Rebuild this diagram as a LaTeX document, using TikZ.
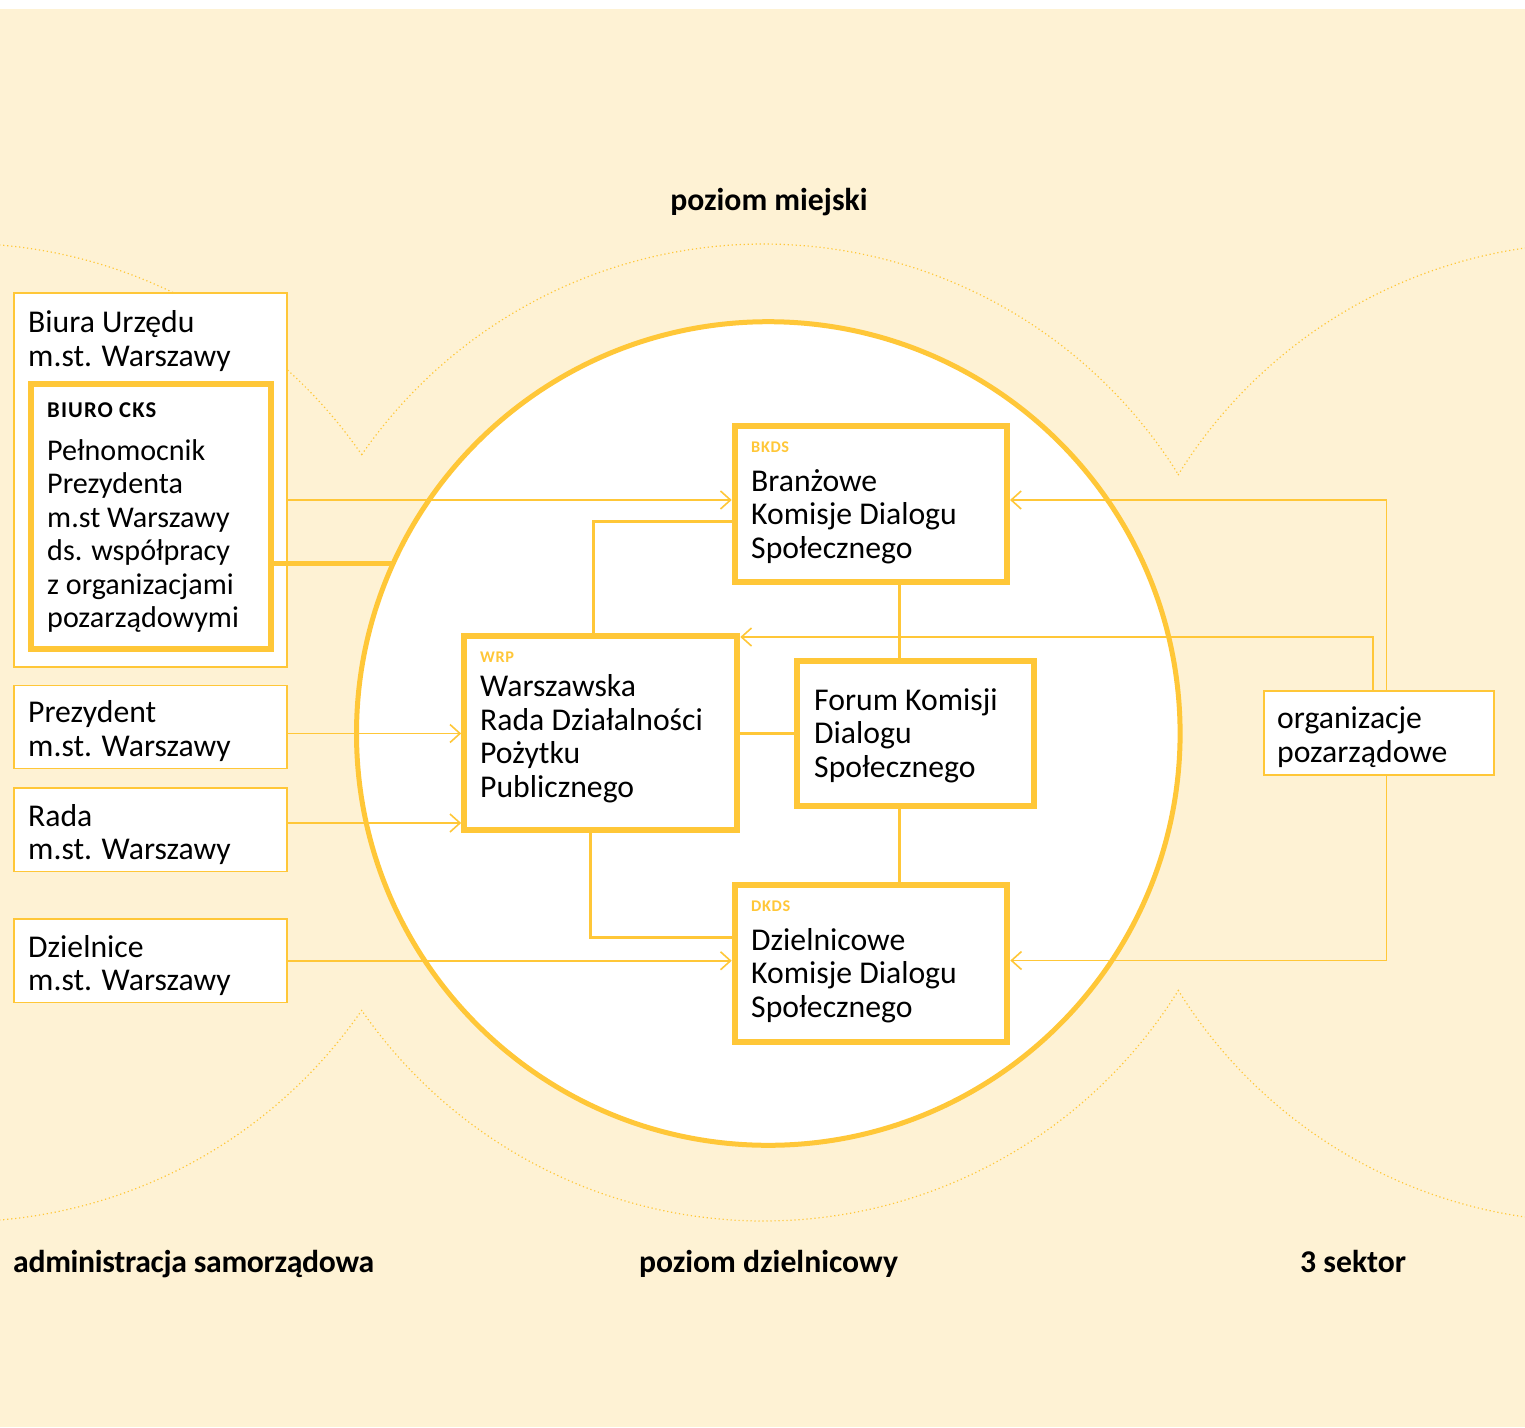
\documentclass[tikz,border=0pt]{standalone}
\usepackage{fontspec}
\setmainfont{Carlito}
\usetikzlibrary{arrows.meta}
\definecolor{cream}{RGB}{254,242,212}
\definecolor{ylw}{RGB}{255,199,56}
\newcommand\mylines[1]{\vtop{\baselineskip=33.5pt\lineskiplimit=-100pt\lineskip=0pt\halign{##\hfil\cr#1\crcr}}}
\tikzset{
 thinbox/.style={draw=ylw, line width=1.8pt, fill=white, rectangle, inner sep=0pt},
 thickbox/.style={draw=ylw, line width=6pt, fill=white, rectangle, inner sep=0pt},
 txt/.style={anchor=base west, inner sep=0pt, font=\fontsize{31.7}{33.5}\selectfont, text=black},
 smalltxt/.style={anchor=base west, inner sep=0pt, font=\fontsize{30.1}{33.5}\selectfont, text=black},
 tag/.style={anchor=base west, inner sep=0pt, font=\fontsize{16.3}{18}\selectfont\bfseries\addfontfeatures{LetterSpace=4}, text=ylw},
 ttl/.style={inner sep=0pt, font=\fontsize{31.7}{36}\selectfont\bfseries, text=black},
 arr/.style={draw=ylw, line width=1.6pt, -{Straight Barb[length=10pt,width=18pt]}},
 midln/.style={draw=ylw, line width=3pt},
 thickln/.style={draw=ylw, line width=5pt},
 dots/.style={draw=ylw, line width=1.2pt, dash pattern=on 1.2pt off 2.8pt},
}
\begin{document}
\begin{tikzpicture}[x=1pt,y=-1pt]
\useasboundingbox (0,0) rectangle (1525,1427);
\fill[white] (0,0) rectangle (1525,9);
\fill[cream] (0,9) rectangle (1525,1427);
% dotted circle outlines
\coordinate (cL) at (-40.9,732.5);
\coordinate (cC) at (763.5,732.5);
\coordinate (cR) at (1594.2,732.5);
\begin{scope}
\clip (0,9) rectangle (1525,1427);
\draw[dots] (cC) ++(-145.35:488.5) arc[start angle=-145.35,end angle=-31.8,radius=488.5];
\draw[dots] (cC) ++(31.8:488.5) arc[start angle=31.8,end angle=145.35,radius=488.5];
\draw[dots] (cL) ++(-34.56:489.2) arc[start angle=-34.56,end angle=-130,radius=489.2];
\draw[dots] (cL) ++(34.56:489.2) arc[start angle=34.56,end angle=130,radius=489.2];
\draw[dots] (cR) ++(-148.25:489.4) arc[start angle=-148.25,end angle=-50,radius=489.4];
\draw[dots] (cR) ++(148.25:489.4) arc[start angle=148.25,end angle=50,radius=489.4];
\end{scope}
% main ring
\node[circle, draw=ylw, line width=5pt, fill=white, minimum size=823.6pt, inner sep=0pt] (ring) at (768.3,733.5) {};
% boxes
\node[thinbox, minimum width=273.3pt, minimum height=374pt] (biura) at (150.65,480) {};
\node[thickbox, minimum width=240.5pt, minimum height=265.5pt] (cks) at (150.75,516.25) {};
\node[thinbox, minimum width=273.3pt, minimum height=83pt] (prez) at (150.65,727) {};
\node[thinbox, minimum width=273.3pt, minimum height=83.5pt] (rada) at (150.65,829.75) {};
\node[thinbox, minimum width=273.3pt, minimum height=83.5pt] (dziel) at (150.65,960.75) {};
\node[thickbox, minimum width=272.3pt, minimum height=155.7pt] (bkds) at (870.85,504.15) {};
\node[thickbox, minimum width=273.1pt, minimum height=194.2pt] (wrp) at (600.75,732.9) {};
\node[thickbox, minimum width=236.9pt, minimum height=144.7pt] (forum) at (915.75,733.35) {};
\node[thickbox, minimum width=272.6pt, minimum height=156.7pt] (dkds) at (871,963.35) {};
\node[thinbox, minimum width=230pt, minimum height=84.3pt] (org) at (1379,733.15) {};
% connectors
\coordinate (h500) at (0,500);
\draw[arr] (biura.east |- h500) -- (bkds.west |- h500);
\coordinate (hit) at (392,563.3);
\draw[thickln] (cks.east |- hit) -- (hit);
\coordinate (k1) at (593.3,521.7);
\draw[midln] (bkds.west |- k1) -- (k1) -- (k1 |- wrp.north);
\coordinate (h733) at (0,733.5);
\draw[arr] (prez.east |- h733) -- (wrp.west |- h733);
\coordinate (h823) at (0,823);
\draw[arr] (rada.east |- h823) -- (wrp.west |- h823);
\draw[arr] (dziel.east) -- (dziel.east -| dkds.west);
\draw[midln] (wrp.east |- h733) -- (forum.west |- h733);
\coordinate (v899) at (899,0);
\draw[midln] (bkds.south -| v899) -- (forum.north -| v899);
\draw[midln] (forum.south -| v899) -- (dkds.north -| v899);
\coordinate (k2) at (590.7,937.7);
\draw[midln] (wrp.south -| k2) -- (k2) -- (k2 -| dkds.west);
\coordinate (k3) at (1372.7,637);
\draw[arr] (org.north -| k3) -- (k3) -- (k3 -| wrp.east);
\coordinate (k4) at (1386.5,500);
\draw[arr] (org.north -| k4) -- (k4) -- (k4 -| bkds.east);
\coordinate (k5) at (1386.5,960.5);
\draw[arr] (org.south -| k5) -- (k5) -- (k5 -| dkds.east);
% texts
\node[txt] (tBiura) at (28,332.7) {\mylines{Biura Urzędu\cr m.st. Warszawy}};
\node[anchor=base west, inner sep=0pt, font=\fontsize{22.6}{26}\selectfont\bfseries\addfontfeatures{LetterSpace=5}] (lCKS) at (47,417.5) {BIURO CKS};
\node[smalltxt] (tCKS) at (47,460) {\mylines{Pełnomocnik\cr Prezydenta\cr m.st Warszawy\cr ds. współpracy\cr z organizacjami\cr pozarządowymi}};
\node[txt] (tPrez) at (28,722.7) {\mylines{Prezydent\cr m.st. Warszawy}};
\node[txt] (tRada) at (28,826) {\mylines{Rada\cr m.st. Warszawy}};
\node[txt] (tDziel) at (28,957) {\mylines{Dzielnice\cr m.st. Warszawy}};
\node[tag] (lBKDS) at (751,452.8) {BKDS};
\node[txt] (tBKDS) at (751,491) {\mylines{Branżowe\cr Komisje Dialogu\cr Społecznego}};
\node[tag] (lWRP) at (480,662.8) {WRP};
\node[txt] (tWRP) at (480,696.7) {\mylines{Warszawska\cr Rada Działalności\cr Pożytku\cr Publicznego}};
\node[txt] (tForum) at (814,710) {\mylines{Forum Komisji\cr Dialogu\cr Społecznego}};
\node[tag] (lDKDS) at (751,911.2) {DKDS};
\node[txt] (tDKDS) at (751,950.3) {\mylines{Dzielnicowe\cr Komisje Dialogu\cr Społecznego}};
\node[txt] (tOrg) at (1277,728.7) {\mylines{organizacje\cr pozarządowe}};
% titles
\node[ttl, anchor=base] (t1) at (769,210) {poziom miejski};
\node[ttl, anchor=base west, font=\fontsize{31.7}{36}\selectfont\bfseries\addfontfeatures{LetterSpace=-1}] (t2) at (13,1272) {administracja samorządowa};
\node[ttl, anchor=base] (t3) at (768.5,1272) {poziom dzielnicowy};
\node[ttl, anchor=base west] (t4) at (1300,1272) {3 sektor};
\end{tikzpicture}
\end{document}
